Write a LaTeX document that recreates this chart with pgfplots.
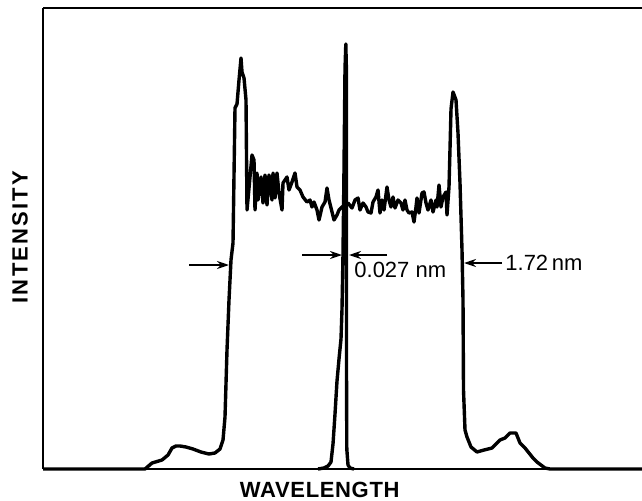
\documentclass[border=0pt]{standalone}
\usepackage{fontspec}
\setmainfont{Liberation Sans}
\newfontfamily\ylblfont[LetterSpace=10]{Liberation Sans}
\newfontfamily\xlblfont[LetterSpace=3]{Liberation Sans}
\usepackage{pgfplots}
\pgfplotsset{compat=1.18}
\usetikzlibrary{arrows.meta}
\begin{document}
\begin{tikzpicture}
\begin{axis}[
  at={(0pt,0pt)}, anchor=south west,
  scale only axis, width=299.5pt, height=230.5pt,
  xmin=43, xmax=642, ymin=0, ymax=461,
  axis x line=box, axis y line=left,
  axis line style={-, line width=1.2pt},
  xtick=\empty, ytick=\empty,
  clip=false,
  xlabel={\xlblfont\bfseries\fontsize{11}{13}\selectfont WAVELENGTH},
  ylabel={\ylblfont\bfseries\fontsize{11}{13}\selectfont INTENSITY},
  xlabel style={at={(axis description cs:0.462,-0.0456)}, anchor=center, inner sep=0pt},
  ylabel style={at={(axis description cs:-0.0384,0.503)}, anchor=center, rotate=0, inner sep=0pt},
]
% broad profile
\addplot[black, line width=1.7pt, line join=round] coordinates {
(43,0)(145,0)(152,6)(162,9)(168,14)(172,21)(176,23)(180,23)(186,22)(193,20)(201,17)(209,15)(215,16)(220,20)(223,29)(225,52)(227,119)(229,169)(231,209)(233,226)(235,361)(237,365)(239,389)(241,411)(242,397)(244,391)(246,369)(247,259)
(252,314)(254,309)(255,259)(257,296)(258,269)(261,292)(263,266)(265,294)(267,264)(269,294)(272,269)(273,296)(275,271)(277,296)(279,276)(282,259)(283,286)(287,292)(289,279)(292,287)(295,296)(297,282)(300,279)(303,272)(307,267)(310,269)(312,262)(314,267)(317,259)(319,249)(322,262)(325,267)(327,281)(329,269)(332,257)(334,249)(337,254)(339,259)(342,262)(345,264)
(348,266)(352,261)(355,269)(358,271)(360,259)(363,266)(366,262)(368,257)(371,256)(373,267)(376,272)(378,279)(380,256)(382,269)(384,259)(387,282)(389,269)(391,262)(393,272)(395,261)(398,269)(401,266)(403,259)(405,269)(407,259)(409,256)(412,257)(414,247)(416,262)(417,271)(419,256)(422,276)(424,277)(426,266)(428,259)(431,269)(433,257)(436,269)(437,262)(439,284)(441,262)(443,272)(446,277)(447,254)(449,282)
(450,320)(451,360)(453,377)(456,369)(458,336)(460,286)(462,219)(463,169)(463.5,79)(465,39)(467,32)(471,22)(477,17)(484,19)(492,21)(500,29)(505,31)(510,36)(516,36)(520,26)(525,21)(529,16)(533,11)(537,7)(545,1)(550,0)(642,0)
};
% narrow line
\addplot[black, line width=1.7pt, line join=round] coordinates {
(318,0)(324,1)(328,3)(331,7)(333,25)(335,55)(337,88)(339,110)(341,130)(342,160)(343,215)(344,300)(345,400)(345.8,425)(346.4,400)(346.4,300)(346.5,100)(346.8,20)(348,4)(350,1)(354,0)
};
% annotations
\draw[line width=0.9pt, -{Stealth[length=6pt,width=4pt]}] (axis cs:189,204) -- (axis cs:229,204);
\draw[line width=0.9pt, -{Stealth[length=6pt,width=4pt]}] (axis cs:302,214) -- (axis cs:342,214);
\draw[line width=0.9pt, -{Stealth[length=6pt,width=4pt]}] (axis cs:387,214) -- (axis cs:349,214);
\draw[line width=0.9pt, -{Stealth[length=6pt,width=4pt]}] (axis cs:502,206) -- (axis cs:464,206);
\node[anchor=west, inner sep=0pt, font=\fontsize{11}{13}\selectfont] at (axis cs:354,199) {0.027~nm};
\node[anchor=west, inner sep=0pt, font=\fontsize{11}{13}\selectfont] at (axis cs:505,206) {1.72\,nm};
\end{axis}
\pgfresetboundingbox
\path (-21.5pt,-15.5pt) rectangle (299.5pt,234.5pt);
\end{tikzpicture}
\end{document}
